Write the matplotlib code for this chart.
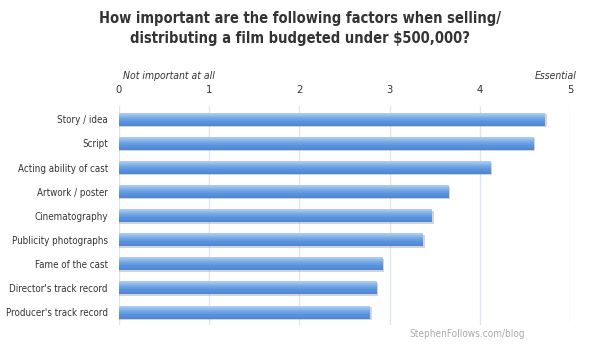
import numpy as np
import matplotlib.pyplot as plt
from matplotlib.colors import LinearSegmentedColormap

# Data
factors = ["Story / idea", "Script", "Acting ability of cast", "Artwork / poster",
           "Cinematography", "Publicity photographs", "Fame of the cast",
           "Director's track record", "Producer's track record"]
scores = [4.72, 4.59, 4.12, 3.65, 3.47, 3.37, 2.92, 2.85, 2.78]
ticks = [0, 1, 2, 3, 4, 5]

title = "How important are the following factors when selling/\ndistributing a film budgeted under $500,000?"

plt.rcParams['font.family'] = ['DejaVu Sans']
plt.rcParams['font.stretch'] = 'condensed'

fig = plt.figure(figsize=(6, 3.5), dpi=100)
ax = fig.add_axes([119 / 600, 25 / 350, 451 / 600, 219 / 350])

# gradient for bars: light top, darker bottom
cmap = LinearSegmentedColormap.from_list("bar", ["#b4d0f3", "#7aaee8", "#5b93dc", "#4f86d2"])
grad = np.linspace(0, 1, 50).reshape(-1, 1)
h = 0.53
for i, v in enumerate(scores):
    # shadow
    ax.barh(i + 0.06, v + 0.02, height=h, left=0, color="#888888", alpha=0.35, zorder=2)
    ax.imshow(grad, cmap=cmap, aspect="auto", extent=(0, v, i + h / 2, i - h / 2),
              zorder=3, interpolation="bilinear")

ax.set_xlim(0, 5)
ax.set_ylim(len(factors) - 0.47, -0.55)
ax.set_yticks(range(len(factors)))
ax.set_yticklabels(factors, fontsize=7, color="#333333")
ax.set_xticks(ticks)
ax.set_xticklabels([str(t) for t in ticks], fontsize=8, color="#333333")
ax.xaxis.tick_top()
ax.tick_params(axis="both", length=0)
ax.tick_params(axis="x", pad=8)
ax.tick_params(axis="y", pad=8)
for s in ax.spines.values():
    s.set_visible(False)
ax.grid(axis="x", color="#dce6f2", linewidth=1, zorder=0)
ax.set_axisbelow(True)

fig.text(0.5, 1 - 28.5 / 350, title, ha="center", va="center", fontsize=10.5,
         fontweight="bold", color="#333333", linespacing=1.45)
fig.text(123 / 600, 1 - 76 / 350, "Not important at all", ha="left", va="center",
         fontsize=7.5, style="italic", color="#333333")
fig.text(577 / 600, 1 - 76 / 350, "Essential", ha="right", va="center",
         fontsize=7.5, style="italic", color="#333333")
fig.text(467 / 600, 1 - 334 / 350, "StephenFollows.com/blog", ha="center", va="center",
         fontsize=7.2, color="#aaaaaa")

fig.savefig("out.png", dpi=100)
